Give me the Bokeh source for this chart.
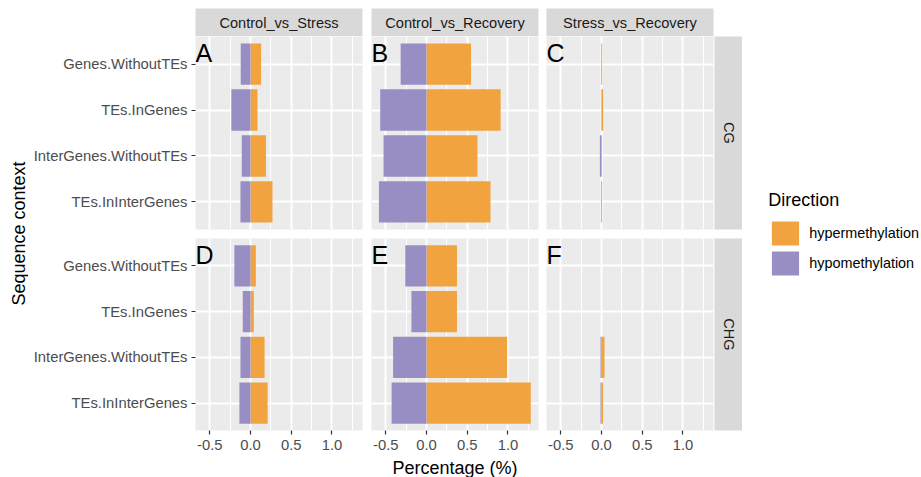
import math
from bokeh.plotting import figure
from bokeh.models import (Range1d, FixedTicker, Grid, LinearAxis, Label, Legend,
                          LegendItem, PrintfTickFormatter)
from bokeh.layouts import row, column
from bokeh.embed import file_html
from bokeh.resources import INLINE
from bokeh.core.properties import value

# ---------------- data ----------------
categories = ["Genes.WithoutTEs", "TEs.InGenes", "InterGenes.WithoutTEs", "TEs.InInterGenes"]
comparisons = ["Control_vs_Stress", "Control_vs_Recovery", "Stress_vs_Recovery"]
contexts = ["CG", "CHG"]
panel_letters = ["A", "B", "C", "D", "E", "F"]
directions = ["hypermethylation", "hypomethylation"]
x_ticks = [-0.5, 0.0, 0.5, 1.0]
x_minor_ticks = [-0.25, 0.25, 0.75, 1.25]

# values (%) in the order of `categories`
cg_control_stress_hyper = [0.13, 0.086, 0.19, 0.27]
cg_control_stress_hypo = [-0.12, -0.235, -0.107, -0.123]
cg_control_recovery_hyper = [0.547, 0.91, 0.626, 0.786]
cg_control_recovery_hypo = [-0.317, -0.568, -0.527, -0.584]
cg_stress_recovery_hyper = [0.008, 0.02, 0.004, 0.006]
cg_stress_recovery_hypo = [-0.004, -0.003, -0.02, -0.006]

chg_control_stress_hyper = [0.066, 0.041, 0.173, 0.21]
chg_control_stress_hypo = [-0.198, -0.095, -0.123, -0.136]
chg_control_recovery_hyper = [0.374, 0.374, 0.99, 1.28]
chg_control_recovery_hypo = [-0.26, -0.185, -0.41, -0.428]
chg_stress_recovery_hyper = [0.0, 0.0, 0.037, 0.02]
chg_stress_recovery_hypo = [0.0, 0.0, -0.012, -0.012]

panel_data = [
    [(cg_control_stress_hyper, cg_control_stress_hypo),
     (cg_control_recovery_hyper, cg_control_recovery_hypo),
     (cg_stress_recovery_hyper, cg_stress_recovery_hypo)],
    [(chg_control_stress_hyper, chg_control_stress_hypo),
     (chg_control_recovery_hyper, chg_control_recovery_hypo),
     (chg_stress_recovery_hyper, chg_stress_recovery_hypo)],
]

# ---------------- style ----------------
FONT = "Liberation Sans"
HYPER = "#F1A340"
HYPO = "#998EC3"
PANEL_BG = "#EBEBEB"
STRIP_BG = "#D9D9D9"
AXIS_TXT = "14.8px"
STRIP_TXT = "14.6px"
TITLE_TXT = "18px"

TOP_PAD = 8
STRIP = 28
FRAME_H1 = 193
GAP = 9
FRAME_H2 = 192
XAX_H = 28
XTITLE_H = 19
col_w = [343, 175, 168]
col_bl = [167, 0, 0]
col_br = [9, 8, 1]
YLAB_W = 28
LEG_W = 179
CENTER_W = sum(col_w) + STRIP

xr = Range1d(-0.675, 1.375)
n = len(categories)
y_pos = [n - i for i in range(n)]
yr = Range1d(0.4, n + 0.6)


def base_fig(width, height, **kw):
    opts = dict(width=width, height=height, output_backend="svg", toolbar_location=None,
                x_axis_location=None, y_axis_location=None, min_border=0,
                outline_line_color=None, border_fill_color="white")
    opts.update(kw)
    p = figure(**opts)
    p.center = []  # drop default grids
    return p


def make_panel(r, c):
    fh = FRAME_H1 if r == 0 else FRAME_H2
    bb = GAP if r == 0 else XAX_H
    p = base_fig(col_w[c], fh + bb, x_range=xr, y_range=yr,
                 min_border_left=col_bl[c], min_border_right=col_br[c],
                 min_border_top=0, min_border_bottom=bb,
                 background_fill_color=PANEL_BG)
    p.add_layout(Grid(dimension=0, ticker=FixedTicker(ticks=x_ticks, minor_ticks=x_minor_ticks),
                      grid_line_color="white", grid_line_width=2,
                      minor_grid_line_color="white", minor_grid_line_width=1))
    p.add_layout(Grid(dimension=1, ticker=FixedTicker(ticks=y_pos),
                      grid_line_color="white", grid_line_width=2))
    hyper, hypo = panel_data[r][c]
    p.hbar(y=y_pos, left=0, right=hyper, height=0.9, fill_color=HYPER, line_color=None)
    p.hbar(y=y_pos, left=hypo, right=0, height=0.9, fill_color=HYPO, line_color=None)
    p.add_layout(Label(x=xr.start, y=yr.end, x_offset=0, y_offset=-2,
                       text=panel_letters[r * 3 + c], text_font=FONT, text_font_size="25px",
                       text_color="black", text_align="left", text_baseline="top"))
    if c == 0:
        ya = LinearAxis(ticker=FixedTicker(ticks=y_pos),
                        major_label_overrides={y_pos[i]: categories[i] for i in range(n)},
                        axis_line_color=None, major_tick_line_color="#333333",
                        major_tick_line_width=1.2, major_tick_out=4, major_tick_in=0,
                        minor_tick_line_color=None, major_label_standoff=4,
                        major_label_text_font=FONT, major_label_text_font_size=AXIS_TXT,
                        major_label_text_color="#4D4D4D")
        p.add_layout(ya, "left")
    if r == 1:
        xa = LinearAxis(ticker=FixedTicker(ticks=x_ticks),
                        formatter=PrintfTickFormatter(format="%.1f"),
                        axis_line_color=None, major_tick_line_color="#333333",
                        major_tick_line_width=1.2, major_tick_out=4, major_tick_in=0,
                        minor_tick_line_color=None, major_label_standoff=5,
                        major_label_text_font=FONT, major_label_text_font_size=AXIS_TXT,
                        major_label_text_color="#4D4D4D")
        p.add_layout(xa, "below")
    return p


def top_strip(c):
    p = base_fig(col_w[c], TOP_PAD + STRIP, x_range=Range1d(0, 1), y_range=Range1d(0, 1),
                 min_border_left=col_bl[c], min_border_right=col_br[c],
                 min_border_top=TOP_PAD, background_fill_color=STRIP_BG)
    p.text(x=[0.5], y=[0.5], text=[comparisons[c]], text_align="center",
           text_baseline="middle", text_font=value(FONT), text_font_size=STRIP_TXT,
           text_color="#1A1A1A")
    return p


def right_strip(r):
    fh = FRAME_H1 if r == 0 else FRAME_H2
    bb = GAP if r == 0 else XAX_H
    p = base_fig(STRIP, fh + bb, x_range=Range1d(0, 1), y_range=Range1d(0, 1),
                 min_border_bottom=bb, background_fill_color=STRIP_BG)
    p.text(x=[0.5], y=[0.5], text=[contexts[r]], text_align="center",
           text_baseline="middle", angle=-math.pi / 2, text_font=value(FONT),
           text_font_size=STRIP_TXT, text_color="#1A1A1A")
    return p


TOTAL_H = TOP_PAD + STRIP + FRAME_H1 + GAP + FRAME_H2 + XAX_H + XTITLE_H
panels_mid = TOP_PAD + STRIP + (FRAME_H1 + GAP + FRAME_H2) / 2

# y title figure
ylab = base_fig(YLAB_W, TOTAL_H, x_range=Range1d(0, YLAB_W), y_range=Range1d(0, TOTAL_H))
ylab.text(x=[18.5], y=[TOTAL_H - panels_mid], text=["Sequence context"],
          angle=math.pi / 2, text_align="center", text_baseline="middle",
          text_font=value(FONT), text_font_size=TITLE_TXT, text_color="black")

# x title figure, centred under the middle panel column
xmid = col_w[0] + col_w[1] / 2 - (col_br[1]) / 2
xlab = base_fig(CENTER_W, XTITLE_H, x_range=Range1d(0, CENTER_W), y_range=Range1d(0, XTITLE_H))
xlab.text(x=[xmid], y=[XTITLE_H / 2], text=["Percentage (%)"],
          text_align="center", text_baseline="middle",
          text_font=value(FONT), text_font_size=TITLE_TXT, text_color="black")

# legend figure (its renderers sit outside the visible range; they only feed the legend)
leg = base_fig(LEG_W, TOTAL_H, x_range=Range1d(0, 1), y_range=Range1d(100, 101))
r_hyper = leg.hbar(y=y_pos, left=0, right=cg_control_stress_hyper, height=0.9,
                   fill_color=HYPER, line_color=None)
r_hypo = leg.hbar(y=y_pos, left=cg_control_stress_hypo, right=0, height=0.9,
                  fill_color=HYPO, line_color=None)
legend = Legend(items=[LegendItem(label=directions[0], renderers=[r_hyper]),
                       LegendItem(label=directions[1], renderers=[r_hypo])],
                title="Direction", location=(26.3, TOTAL_H - 277.5),
                title_text_font=FONT, title_text_font_size=TITLE_TXT,
                title_text_font_style="normal", title_text_color="black",
                title_standoff=7,
                label_text_font=FONT, label_text_font_size="14.4px", label_text_color="black",
                glyph_width=34, glyph_height=30, label_height=27, label_standoff=7,
                spacing=0, padding=0, margin=0, border_line_color=None,
                background_fill_alpha=0)
leg.add_layout(legend)

strips = row(top_strip(0), top_strip(1), top_strip(2))
row1 = row(make_panel(0, 0), make_panel(0, 1), make_panel(0, 2), right_strip(0))
row2 = row(make_panel(1, 0), make_panel(1, 1), make_panel(1, 2), right_strip(1))
layout = row(ylab, column(strips, row1, row2, xlab), leg)

open("out.html", "w").write(file_html(layout, INLINE))
